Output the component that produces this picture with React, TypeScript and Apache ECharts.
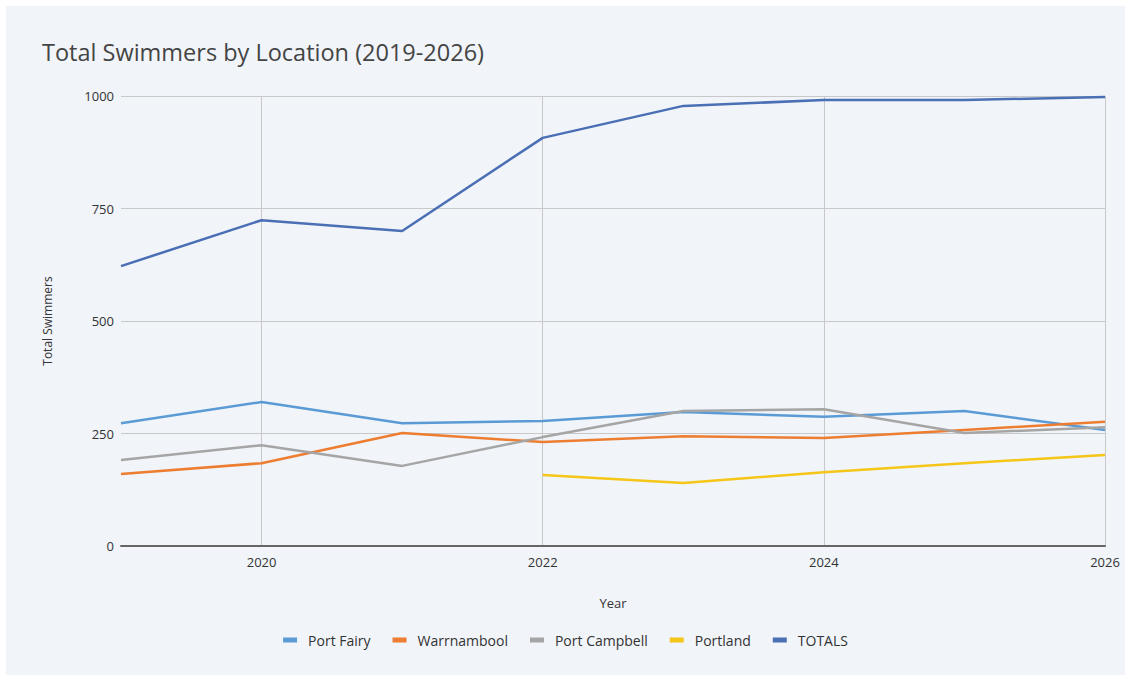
import React, { useEffect, useRef } from "react";
import * as echarts from "echarts";

const years = ["2019", "2020", "2021", "2022", "2023", "2024", "2025", "2026"];
const portFairy = [273, 320, 273, 278, 298, 287, 300, 258];
const warrnambool = [160, 184, 251, 231, 244, 240, 258, 276];
const portCampbell = [191, 224, 178, 242, 300, 304, 251, 264];
const portland = [null, null, null, 158, 140, 164, 184, 202];
const totals = [622, 724, 700, 907, 978, 991, 991, 998];
const yTicks = [0, 250, 500, 750, 1000];

const FONT = "'Open Sans', 'Noto Sans', sans-serif";

export default function App() {
  const ref = useRef<HTMLDivElement>(null);
  useEffect(() => {
    if (!ref.current) return;
    const chart = echarts.init(ref.current, undefined, { renderer: "svg" });
    const mk = (name: string, data: (number | null)[], color: string) => ({
      name,
      type: "line",
      data,
      showSymbol: false,
      symbol: "none",
      lineStyle: { color, width: 2.5 },
      itemStyle: { color },
      connectNulls: false,
    });
    chart.setOption({
      animation: false,
      backgroundColor: "#ffffff",
      textStyle: { fontFamily: FONT },
      graphic: [
        {
          type: "rect",
          z: -10,
          silent: true,
          shape: { x: 6, y: 6, width: 1119, height: 669 },
          style: { fill: "#f1f4f9" },
        },
      ],
      title: {
        text: "Total Swimmers by Location (2019-2026)",
        left: 37,
        top: 35,
        textStyle: { fontFamily: FONT, fontSize: 23.5, fontWeight: "normal", color: "#444444" },
      },
      legend: {
        bottom: 29,
        left: "center",
        itemWidth: 14,
        itemHeight: 5,
        itemGap: 22,
        icon: "rect",
        textStyle: { fontFamily: FONT, fontSize: 14, color: "#333333", padding: [0, 0, 0, 6] },
        data: ["Port Fairy", "Warrnambool", "Port Campbell", "Portland", "TOTALS"],
      },
      grid: { left: 121, right: 26, top: 96, bottom: 135, containLabel: false },
      xAxis: {
        type: "category",
        data: years,
        boundaryGap: false,
        name: "Year",
        nameLocation: "middle",
        nameGap: 50,
        nameTextStyle: { fontFamily: FONT, fontSize: 13, color: "#333333" },
        axisLine: { lineStyle: { color: "#666666", width: 2 } },
        axisTick: { show: false },
        axisLabel: {
          interval: (i: number) => i % 2 === 1,
          color: "#333333",
          fontSize: 13,
          fontFamily: FONT,
          margin: 9,
        },
        splitLine: {
          show: true,
          interval: (i: number) => i % 2 === 1,
          lineStyle: { color: "#c8c8c8", width: 1 },
        },
      },
      yAxis: {
        type: "value",
        min: yTicks[0],
        max: yTicks[yTicks.length - 1],
        interval: 250,
        name: "Total Swimmers",
        nameLocation: "middle",
        nameGap: 68,
        nameRotate: 90,
        nameTextStyle: { fontFamily: FONT, fontSize: 12, color: "#333333" },
        axisLine: { show: false },
        axisTick: { show: false },
        axisLabel: {
          color: "#333333",
          fontSize: 13,
          fontFamily: FONT,
          margin: 7,
          formatter: (v: number) => String(v),
        },
        splitLine: { lineStyle: { color: "#c8c8c8", width: 1 } },
      },
      series: [
        mk("Port Fairy", portFairy, "#5b9bd5"),
        mk("Warrnambool", warrnambool, "#ed7d31"),
        mk("Port Campbell", portCampbell, "#a5a5a5"),
        mk("Portland", portland, "#f5c518"),
        mk("TOTALS", totals, "#4a6fb5"),
      ],
    });
    return () => chart.dispose();
  }, []);
  return (
    <div
      ref={ref}
      style={{ position: "absolute", left: 0, top: 0, width: 1131, height: 681 }}
    />
  );
}
